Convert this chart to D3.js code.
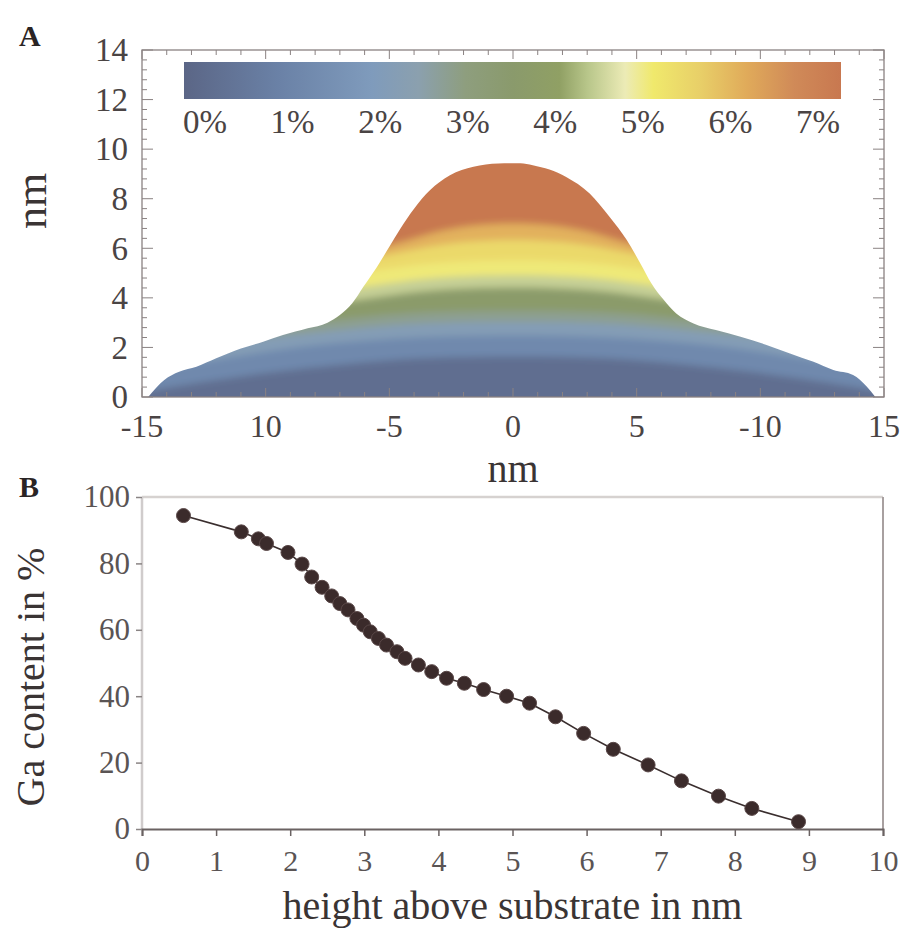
<!DOCTYPE html>
<html>
<head>
<meta charset="utf-8">
<script src="https://cdn.jsdelivr.net/npm/d3@7"></script>
<style>
  body { margin: 0; background: #fff; }
  text { font-family: "Liberation Serif", "DejaVu Serif", serif; }
</style>
</head>
<body>
<div id="vis"></div>
<script>
// ---- panel A: dome profile (nm across, nm high) ----
const profileX = [-14.75, -14.1, -13.5, -12.8, -12.0, -11.0, -10.1, -9.3, -8.3, -7.5, -7.0, -6.5, -6.05, -5.5, -5.0, -4.55, -4.0, -3.35, -2.55, -1.6, -0.6, 0.3, 0.8, 2.15, 3.1, 3.9, 4.6, 5.15, 5.6, 6.1, 6.6, 7.3, 8.2, 9.2, 10.25, 11.2, 12.15, 12.95, 13.75, 14.3, 14.65];
const profileH = [0, 0.69, 1.02, 1.22, 1.56, 1.96, 2.23, 2.5, 2.77, 3.0, 3.31, 3.78, 4.45, 5.25, 6.06, 6.8, 7.6, 8.35, 8.95, 9.29, 9.42, 9.43, 9.35, 8.88, 8.21, 7.27, 6.33, 5.39, 4.58, 3.91, 3.37, 2.97, 2.7, 2.43, 2.1, 1.76, 1.42, 1.09, 0.89, 0.42, 0];

// composition contours inside the dome (height of each level boundary)
const contourX = [-15, -12, -9, -7, -5, -3, 0, 3, 5, 7, 9, 12, 15];
const bandPct = [0.3, 1.3, 2.2, 2.8, 3.6, 4.4, 4.95, 5.3, 5.9, 7.0]; // band below first contour, then above each
const contourH = [
  [0.2, 0.7, 1.1, 1.3, 1.5, 1.6, 1.65, 1.6, 1.5, 1.3, 1.1, 0.7, 0.2],
  [1.0, 1.5, 2.0, 2.2, 2.35, 2.45, 2.5, 2.45, 2.35, 2.2, 2.0, 1.5, 1.0],
  [1.8, 2.2, 2.5, 2.7, 2.9, 3.0, 3.05, 3.0, 2.9, 2.7, 2.5, 2.2, 1.8],
  [2.6, 2.9, 3.0, 3.1, 3.35, 3.45, 3.5, 3.45, 3.35, 3.1, 3.0, 2.9, 2.6],
  [3.5, 3.6, 3.7, 3.8, 4.1, 4.35, 4.45, 4.35, 4.1, 3.8, 3.7, 3.6, 3.5],
  [4.0, 4.1, 4.2, 4.3, 4.6, 4.85, 4.95, 4.85, 4.6, 4.3, 4.2, 4.1, 4.0],
  [4.6, 4.7, 4.8, 4.9, 5.2, 5.45, 5.55, 5.45, 5.2, 4.9, 4.8, 4.7, 4.6],
  [5.2, 5.3, 5.4, 5.5, 5.7, 6.2, 6.4, 6.2, 5.7, 5.5, 5.4, 5.3, 5.2],
  [5.6, 5.7, 5.8, 5.9, 6.0, 6.8, 7.1, 6.8, 6.0, 5.9, 5.8, 5.7, 5.6]
];

// colour bar
const stopPct = [0, 1, 2, 2.5, 3, 3.5, 4, 4.3, 4.7, 5, 5.5, 6, 6.5, 7];
const stopColor = ["#5b6686", "#6a81a6", "#7f9bbc", "#8ba0ae", "#8e9e7e", "#8a9a6c", "#90a064", "#b8c68a", "#ecebb6", "#f0e96c", "#e8cf68", "#e0aa5a", "#d08a58", "#c87850"];
const barTicks = [0, 1, 2, 3, 4, 5, 6, 7];

const xTicksA = [-15, -10, -5, 0, 5, 10, 15];
const xTickLabelsA = ["-15", "10", "-5", "0", "5", "-10", "15"];
const yTicksA = [0, 2, 4, 6, 8, 10, 12, 14];

// ---- panel B: Ga content vs height ----
const heightNm = [0.56, 1.34, 1.57, 1.68, 1.97, 2.16, 2.29, 2.43, 2.56, 2.67, 2.78, 2.90, 2.99, 3.08, 3.19, 3.30, 3.44, 3.55, 3.73, 3.91, 4.11, 4.35, 4.61, 4.92, 5.23, 5.58, 5.96, 6.36, 6.83, 7.28, 7.78, 8.23, 8.86];
const gaPct = [94.4, 89.5, 87.4, 86.0, 83.3, 79.8, 75.9, 72.8, 70.2, 67.9, 66.0, 63.4, 61.4, 59.4, 57.4, 55.4, 53.4, 51.4, 49.4, 47.4, 45.4, 43.9, 42.0, 40.0, 37.9, 33.8, 28.8, 24.0, 19.3, 14.5, 9.9, 6.2, 2.2];
const xTicksB = [0, 1, 2, 3, 4, 5, 6, 7, 8, 9, 10];
const yTicksB = [0, 20, 40, 60, 80, 100];

const W = 905, H = 930;
const svg = d3.select("#vis").append("svg").attr("width", W).attr("height", H);
svg.append("rect").attr("width", W).attr("height", H).attr("fill", "#fff");
const defs = svg.append("defs");

const color = d3.scaleLinear().domain(stopPct).range(stopColor);

// ================= Panel A =================
const ax = d3.scaleLinear().domain([-15, 15]).range([142, 884]);
const ay = d3.scaleLinear().domain([0, 14]).range([397, 50]);

const dome = d3.area()
  .x((d, i) => ax(profileX[i]))
  .y0(ay(0))
  .y1(d => ay(d))
  .curve(d3.curveMonotoneX);

defs.append("clipPath").attr("id", "domeClip")
  .append("path").attr("d", dome(profileH));

const blur = defs.append("filter").attr("id", "soft")
  .attr("x", "-5%").attr("y", "-5%").attr("width", "110%").attr("height", "110%");
blur.append("feGaussianBlur").attr("stdDeviation", 3.5);

const bands = svg.append("g").attr("clip-path", "url(#domeClip)")
  .append("g").attr("filter", "url(#soft)");

bands.append("rect")
  .attr("x", ax(-16)).attr("y", ay(14))
  .attr("width", ax(16) - ax(-16)).attr("height", ay(-1) - ay(14))
  .attr("fill", color(bandPct[0]));

const bandArea = d3.area()
  .x((d, i) => ax(contourX[i]))
  .y0(ay(14))
  .y1(d => ay(d))
  .curve(d3.curveBasis);

contourH.forEach((c, k) => {
  bands.append("path")
    .attr("d", bandArea(c))
    .attr("fill", color(bandPct[k + 1]));
});

// frame + ticks (inside, all four sides)
const frameA = svg.append("g").attr("stroke", "#8a8282").attr("fill", "none");
frameA.append("rect")
  .attr("x", ax(-15)).attr("y", ay(14))
  .attr("width", ax(15) - ax(-15)).attr("height", ay(0) - ay(14))
  .attr("stroke-width", 1.3);

const xMinorA = ax.ticks(30);
const yMinorA = d3.range(0, 14.01, 0.4);
xMinorA.forEach(v => {
  const major = xTicksA.includes(v);
  const len = major ? 9 : 5;
  frameA.append("line").attr("x1", ax(v)).attr("x2", ax(v)).attr("y1", ay(0)).attr("y2", ay(0) - len);
  frameA.append("line").attr("x1", ax(v)).attr("x2", ax(v)).attr("y1", ay(14)).attr("y2", ay(14) + len);
});
yMinorA.forEach(v => {
  const major = yTicksA.some(t => Math.abs(t - v) < 1e-6);
  const len = major ? 11 : 5;
  frameA.append("line").attr("y1", ay(v)).attr("y2", ay(v)).attr("x1", ax(-15)).attr("x2", ax(-15) + len);
  frameA.append("line").attr("y1", ay(v)).attr("y2", ay(v)).attr("x1", ax(15)).attr("x2", ax(15) - len);
});

svg.append("g").selectAll("text").data(yTicksA).join("text")
  .attr("x", 128).attr("y", d => ay(d))
  .attr("dy", "0.34em").attr("text-anchor", "end")
  .attr("font-size", 33).attr("fill", "#4a4444")
  .text(d => d);

svg.append("g").selectAll("text").data(xTicksA).join("text")
  .attr("x", d => ax(d)).attr("y", 437)
  .attr("text-anchor", "middle")
  .attr("font-size", 32).attr("fill", "#4a4444")
  .text((d, i) => xTickLabelsA[i]);

svg.append("text").attr("x", ax(0)).attr("y", 482).attr("text-anchor", "middle")
  .attr("font-size", 40).attr("fill", "#3a3434").text("nm");
svg.append("text").attr("transform", "translate(31,201) rotate(-90)")
  .attr("dominant-baseline", "central").attr("text-anchor", "middle")
  .attr("font-size", 44).attr("fill", "#3a3434").text("nm");

// colour bar
const bx = d3.scaleLinear().domain([0, 7]).range([184, 841]);
const grad = defs.append("linearGradient").attr("id", "barGrad");
stopPct.forEach((p, i) => {
  grad.append("stop").attr("offset", (p / 7 * 100) + "%").attr("stop-color", stopColor[i]);
});
svg.append("rect").attr("x", bx(0)).attr("y", 62)
  .attr("width", bx(7) - bx(0)).attr("height", 37)
  .attr("fill", "url(#barGrad)");

const barLabelX = d3.scaleLinear().domain([0, 7]).range([205, 818]);
svg.append("g").selectAll("text").data(barTicks).join("text")
  .attr("x", d => barLabelX(d)).attr("y", 133)
  .attr("text-anchor", "middle")
  .attr("font-size", 33).attr("fill", "#4a4444")
  .text(d => d + "%");

svg.append("text").attr("x", 19).attr("y", 46)
  .attr("font-size", 30).attr("font-weight", "bold").attr("fill", "#2a2424").text("A");

// ================= Panel B =================
const bxs = d3.scaleLinear().domain([0, 10]).range([142, 883]);
const bys = d3.scaleLinear().domain([0, 100]).range([829, 497]);

svg.append("line").attr("x1", bxs(0)).attr("x2", bxs(10)).attr("y1", bys(100)).attr("y2", bys(100))
  .attr("stroke", "#d6d2d0").attr("stroke-width", 2.5);
svg.append("line").attr("x1", bxs(0)).attr("x2", bxs(0)).attr("y1", bys(0)).attr("y2", bys(100))
  .attr("stroke", "#d0cccc").attr("stroke-width", 2.5);
svg.append("line").attr("x1", bxs(10)).attr("x2", bxs(10)).attr("y1", bys(0)).attr("y2", bys(100))
  .attr("stroke", "#a8a0a0").attr("stroke-width", 2);

const gx = svg.append("g").attr("transform", `translate(0,${bys(0)})`)
  .call(d3.axisBottom(bxs).tickValues(xTicksB).tickSize(7).tickPadding(14).tickFormat(d3.format("d")));
gx.select(".domain").attr("stroke", "#6a6262").attr("stroke-width", 2);
gx.selectAll(".tick line").attr("stroke", "#6a6262").attr("stroke-width", 1.5);
gx.selectAll(".tick text").attr("font-size", 30).attr("fill", "#5a5454")
  .attr("font-family", "Liberation Serif, serif");

const gy = svg.append("g").attr("transform", `translate(${bxs(0)},0)`)
  .call(d3.axisLeft(bys).tickValues(yTicksB).tickSize(6).tickPadding(6));
gy.select(".domain").remove();
gy.selectAll(".tick line").attr("stroke", "#8a8484").attr("stroke-width", 1.5);
gy.selectAll(".tick text").attr("font-size", 31).attr("fill", "#5a5454")
  .attr("font-family", "Liberation Serif, serif");

const line = d3.line()
  .x((d, i) => bxs(heightNm[i]))
  .y(d => bys(d));
svg.append("path").attr("d", line(gaPct))
  .attr("fill", "none").attr("stroke", "#3a2e2e").attr("stroke-width", 1.6);

svg.append("g").selectAll("circle").data(gaPct).join("circle")
  .attr("cx", (d, i) => bxs(heightNm[i]))
  .attr("cy", d => bys(d))
  .attr("r", 7)
  .attr("fill", "#3b2b2b").attr("stroke", "#5a4848").attr("stroke-width", 1);

svg.append("text").attr("x", bxs(5)).attr("y", 919).attr("text-anchor", "middle")
  .attr("font-size", 40).attr("fill", "#3a3434").text("height above substrate in nm");
svg.append("text").attr("transform", "translate(30,677) rotate(-90)")
  .attr("dominant-baseline", "central").attr("text-anchor", "middle")
  .attr("font-size", 40).attr("fill", "#3a3434").text("Ga content in %");

svg.append("text").attr("x", 19).attr("y", 497)
  .attr("font-size", 30).attr("font-weight", "bold").attr("fill", "#2a2424").text("B");
</script>
</body>
</html>
